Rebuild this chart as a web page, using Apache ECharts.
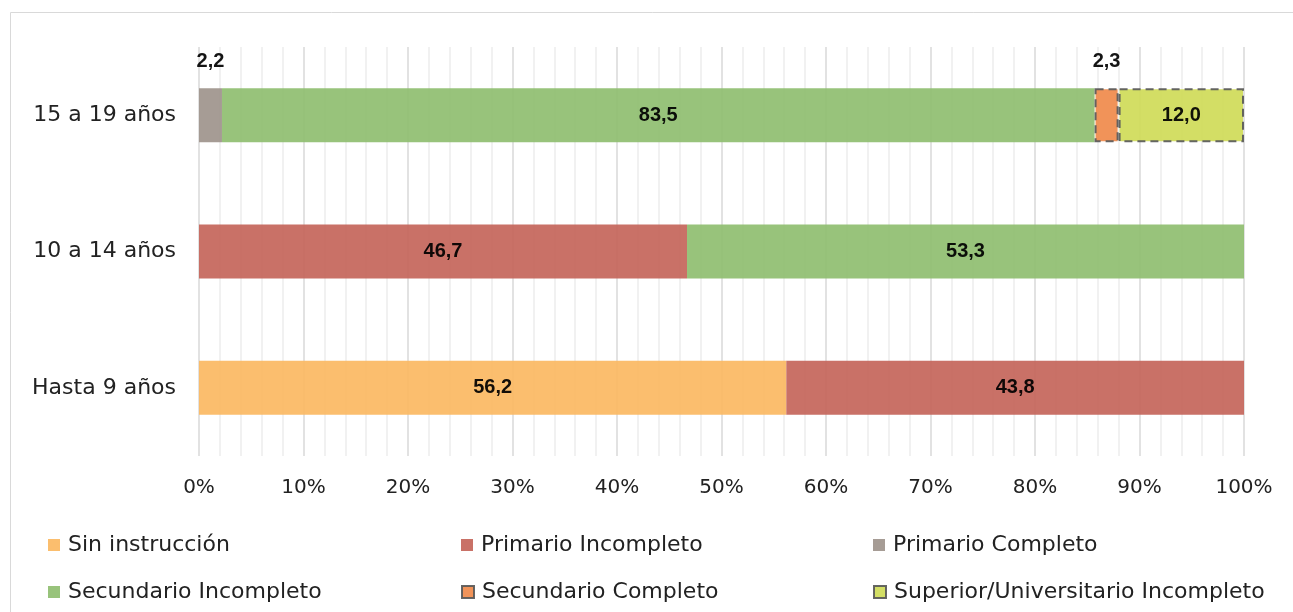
<!DOCTYPE html>
<html><head><meta charset="utf-8">
<script src="https://cdn.jsdelivr.net/npm/echarts@6/dist/echarts.min.js"></script>
<style>html,body{margin:0;padding:0;background:#fff}#c{width:1293px;height:612px}</style>
</head><body><div id="c"></div>
<script>
const categories = ['Hasta 9 años', '10 a 14 años', '15 a 19 años'];
const seriesNames = ['Sin instrucción','Primario Incompleto','Primario Completo','Secundario Incompleto','Secundario Completo','Superior/Universitario Incompleto'];
const sinInstruccion = [56.2, null, null];
const primarioIncompleto = [43.8, 46.7, null];
const primarioCompleto = [null, null, 2.2];
const secundarioIncompleto = [null, 53.3, 83.5];
const secundarioCompleto = [null, null, 2.3];
const superiorIncompleto = [null, null, 12.0];
const xTicks = [0,10,20,30,40,50,60,70,80,90,100];

const colors = ['#FBB862','#C4655A','#9E948C','#8FBE70','#F08A4B','#CFDB58'];
const values = [sinInstruccion, primarioIncompleto, primarioCompleto, secundarioIncompleto, secundarioCompleto, superiorIncompleto];
const FONT = 'DejaVu Sans';

const series = values.map((v, i) => {
  const small = (i === 2 || i === 4);
  const dashed = (i === 4 || i === 5);
  return {
    name: seriesNames[i], type: 'bar', stack: 'total', data: v,
    barWidth: 54,
    itemStyle: Object.assign({color: colors[i], opacity: 0.92},
      dashed ? {borderColor: '#595959', borderWidth: 2, borderType: [8, 5]} : {borderWidth: 0}),
    label: {
      show: true, position: small ? 'top' : 'inside', distance: 17,
      formatter: p => p.value == null ? '' : p.value.toFixed(1).replace('.', ','),
      fontFamily: 'Liberation Sans', fontWeight: 'bold', fontSize: 20, color: '#000'
    },
    emphasis: {disabled: true}
  };
});

const legendLeft = [48, 461, 873];
const legendTop = [533, 580];
const legends = seriesNames.map((name, i) => ({
  left: legendLeft[i % 3], top: legendTop[Math.floor(i / 3)], padding: 0,
  itemWidth: 12, itemHeight: 12, icon: 'rect', selectedMode: false,
  data: [{name: name,
    itemStyle: (i === 4 || i === 5) ? {borderColor:'#595959', borderWidth: 2, borderType:'solid'} : {}}],
  textStyle: {fontFamily: FONT, fontSize: 22, lineHeight: 24, color: '#222', padding: [0,0,0,3]}
}));

const chart = echarts.init(document.getElementById('c'), null, {renderer: 'canvas'});
chart.setOption({
  animation: false,
  color: colors,
  graphic: [{type: 'rect', shape: {x: 10.5, y: 12.5, width: 1300, height: 620}, style: {fill: 'none', stroke: '#D9D9D9', lineWidth: 1}, silent: true}],
  legend: legends,
  grid: {left: 199, right: 49, top: 47, bottom: 156, containLabel: false},
  xAxis: {
    type: 'value', min: 0, max: 100, interval: 10,
    axisLabel: {formatter: v => v + '%', fontFamily: FONT, fontSize: 20, color: '#222', margin: 22},
    axisLine: {show: false}, axisTick: {show: false},
    splitLine: {show: true, lineStyle: {color: '#D9D9D9', width: 1.5}},
    minorTick: {show: false, splitNumber: 5},
    minorSplitLine: {show: true, lineStyle: {color: '#EDEDED', width: 1.5}}
  },
  yAxis: {
    type: 'category', data: categories,
    axisLabel: {fontFamily: FONT, fontSize: 22, color: '#222', margin: 23},
    axisLine: {show: false}, axisTick: {show: false}
  },
  series: series
});
</script></body></html>
